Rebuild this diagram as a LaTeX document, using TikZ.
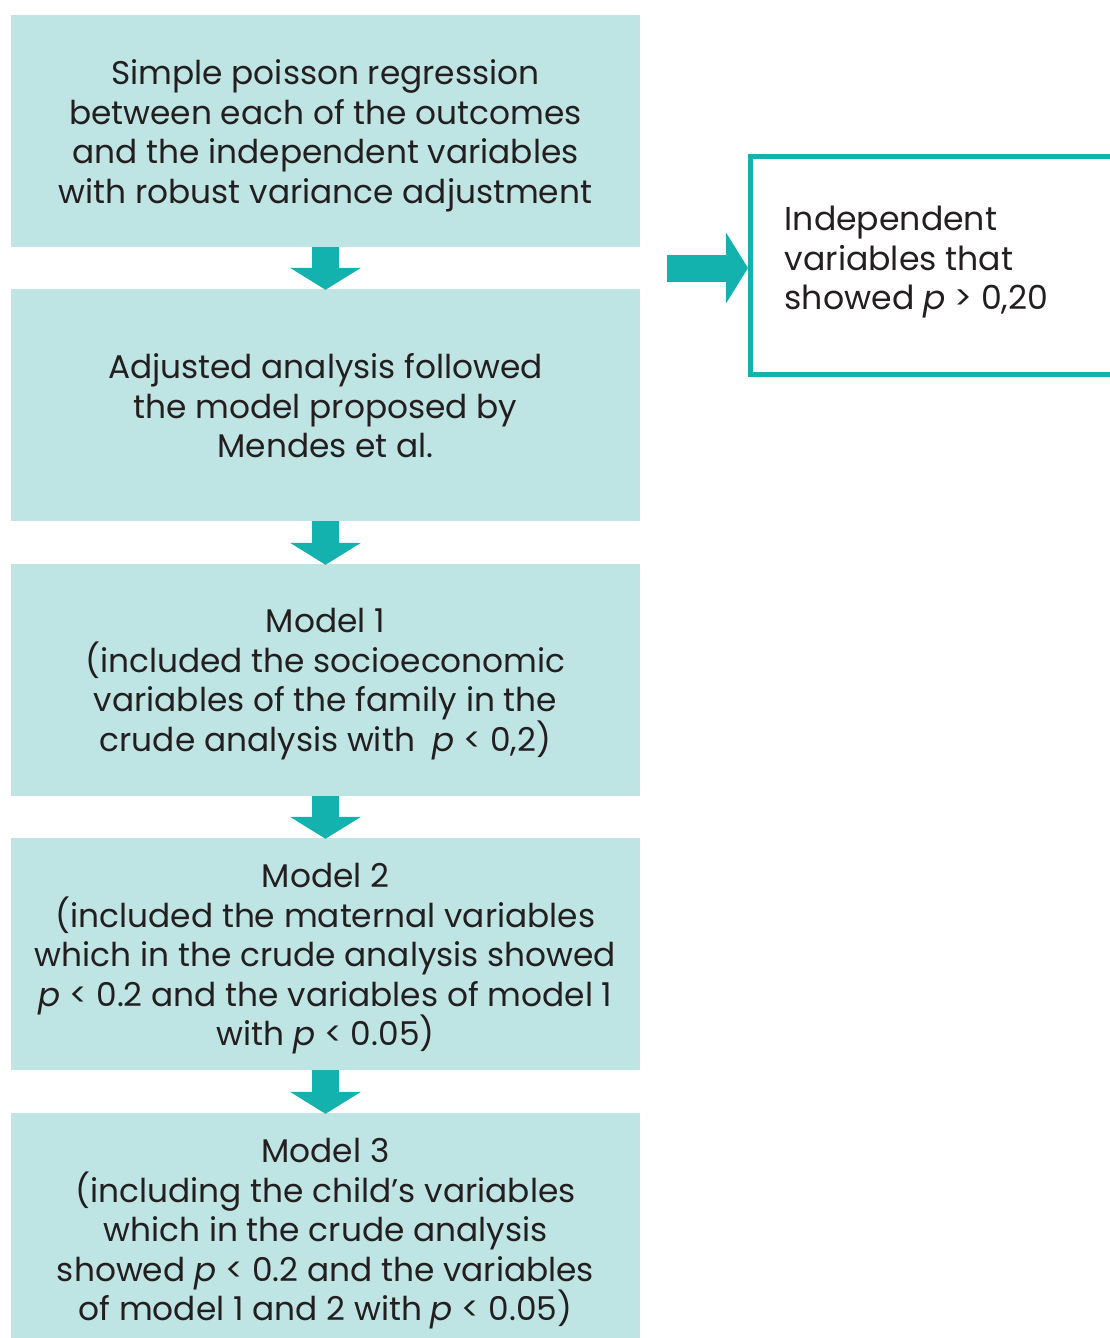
\documentclass[tikz,border=0pt]{standalone}
\usepackage{fontspec}
\setmainfont{Poppins}
\usetikzlibrary{arrows.meta}
\definecolor{boxfill}{HTML}{BEE4E3}
\definecolor{teal2}{HTML}{13B2AE}
\definecolor{ink}{HTML}{231F20}
\tikzset{
  flowbox/.style={rectangle, fill=boxfill, draw=none, minimum width=629pt, minimum height=232pt, inner sep=0pt},
  flowtext/.style={inner sep=0pt, align=center, text=ink, font=\fontsize{32.8}{39.5}\selectfont},
  sidebox/.style={rectangle, draw=teal2, line width=5pt, minimum width=400pt, minimum height=218pt, inner sep=0pt},
  sidetext/.style={inner sep=0pt, align=left, text=ink, anchor=west, font=\fontsize{33.1}{39.5}\selectfont},
  fatarrow/.style={draw=teal2, line width=27pt, -{Triangle[width=70pt, length=22pt, fill=teal2]}}
}
\begin{document}
\begin{tikzpicture}[x=1pt, y=-1pt]
\useasboundingbox (0,0) rectangle (1110,1338);
\clip (0,0) rectangle (1110,1338);
\node[flowbox] (b1) at (325.5,131) {};
\node[flowbox] (b2) at (325.5,405) {};
\node[flowbox] (b3) at (325.5,680) {};
\node[flowbox] (b4) at (325.5,954) {};
\node[flowbox, minimum height=240pt] (b5) at (325.5,1233) {};
\node[sidebox] (rb) at (950.5,265.5) {};
\node[flowtext] (t1) at ([yshift=-5pt]b1.center) {Simple poisson regression\\between each of the outcomes\\and the independent variables\\with robust variance adjustment};
\node[flowtext] (t2) at ([yshift=-1pt]b2.center) {Adjusted analysis followed\\the model proposed by\\Mendes et al.};
\node[flowtext] (t3) at ([yshift=-4pt]b3.center) {Model 1\\(included the socioeconomic\\variables of the family in the\\crude analysis with\ \ \textit{p} < 0,2)};
\node[flowtext] (t4) at ([yshift=-5pt]b4.center) {Model 2\\(included the maternal variables\\which in the crude analysis showed\\\textit{p} < 0.2 and the variables of model 1\\with \textit{p} < 0.05)};
\node[flowtext] (t5) at ([yshift=-1pt]b5.center) {Model 3\\(including the child’s variables\\which in the crude analysis\\showed \textit{p} < 0.2 and the variables\\of model 1 and 2 with \textit{p} < 0.05)};
\node[sidetext] (t6) at ([xshift=36.5pt, yshift=3pt]rb.west) {Independent\\variables that\\showed \textit{p} > 0,20};
\coordinate (rs) at (667,268);
\draw[fatarrow] (b1.south) -- ([yshift=-1pt]b2.north);
\draw[fatarrow] (b2.south) -- ([yshift=-1pt]b3.north);
\draw[fatarrow] (b3.south) -- ([yshift=-1pt]b4.north);
\draw[fatarrow] (b4.south) -- ([yshift=-1pt]b5.north);
\draw[fatarrow] (rs) -- (rs -| rb.west);
\end{tikzpicture}
\end{document}
